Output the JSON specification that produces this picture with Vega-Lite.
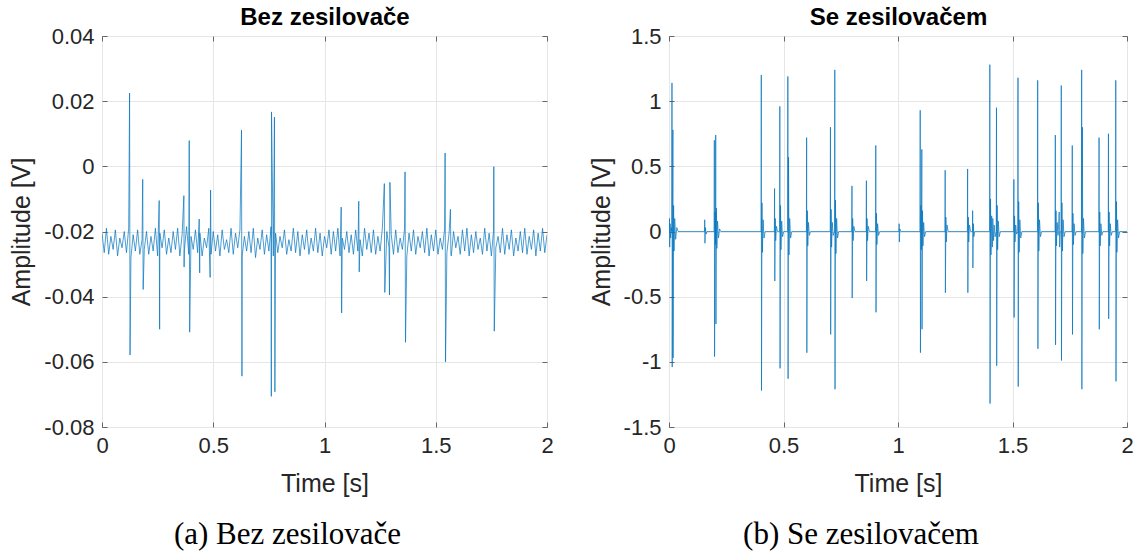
{
  "$schema": "https://vega.github.io/schema/vega-lite/v6.json",
  "padding": {"left": 9, "top": 5, "right": 5, "bottom": 5},
  "background": "white",
  "config": {
    "view": {"stroke": "#666666", "strokeWidth": 1},
    "axis": {
      "labelFont": "Liberation Sans", "titleFont": "Liberation Sans",
      "labelColor": "#262626", "titleColor": "#262626",
      "labelFontSize": 22, "titleFontSize": 25, "titleFontWeight": "normal",
      "gridColor": "#e6e6e6", "gridWidth": 1, "tickColor": "#666666",
      "domain": false, "tickSize": -5, "labelFlush": false
    }
  },
  "spacing": 34,
  "datasets": {
    "a": [
      {"t":0.00,"v":-0.0205},{"t":0.01,"v":-0.0265},{"t":0.02,"v":-0.0190},{"t":0.03,"v":-0.0270},{"t":0.04,"v":-0.0215},{"t":0.05,"v":-0.0255},{"t":0.06,"v":-0.0195},{"t":0.07,"v":-0.0275},{"t":0.08,"v":-0.0220},{"t":0.09,"v":-0.0250},
      {"t":0.10,"v":-0.0200},{"t":0.11,"v":-0.0265},{"t":0.12,"v":-0.0190},{"t":0.13,"v":-0.0280},{"t":0.14,"v":-0.0210},{"t":0.15,"v":-0.0260},{"t":0.16,"v":-0.0195},{"t":0.17,"v":-0.0270},{"t":0.18,"v":-0.0225},{"t":0.19,"v":-0.0255},
      {"t":0.20,"v":-0.0200},{"t":0.21,"v":-0.0270},{"t":0.22,"v":-0.0215},{"t":0.23,"v":-0.0260},{"t":0.24,"v":-0.0190},{"t":0.25,"v":-0.0275},{"t":0.26,"v":-0.0205},{"t":0.27,"v":-0.0250},{"t":0.28,"v":-0.0195},{"t":0.29,"v":-0.0270},
      {"t":0.30,"v":-0.0220},{"t":0.31,"v":-0.0265},{"t":0.32,"v":-0.0200},{"t":0.33,"v":-0.0255},{"t":0.34,"v":-0.0190},{"t":0.35,"v":-0.0275},{"t":0.36,"v":-0.0210},{"t":0.37,"v":-0.0260},{"t":0.38,"v":-0.0185},{"t":0.39,"v":-0.0270},
      {"t":0.40,"v":-0.0215},{"t":0.41,"v":-0.0255},{"t":0.42,"v":-0.0195},{"t":0.43,"v":-0.0265},{"t":0.44,"v":-0.0205},{"t":0.45,"v":-0.0275},{"t":0.46,"v":-0.0220},{"t":0.47,"v":-0.0250},{"t":0.48,"v":-0.0190},{"t":0.49,"v":-0.0270},
      {"t":0.50,"v":-0.0200},{"t":0.51,"v":-0.0260},{"t":0.52,"v":-0.0210},{"t":0.53,"v":-0.0275},{"t":0.54,"v":-0.0195},{"t":0.55,"v":-0.0255},{"t":0.56,"v":-0.0225},{"t":0.57,"v":-0.0265},{"t":0.58,"v":-0.0190},{"t":0.59,"v":-0.0270},
      {"t":0.60,"v":-0.0205},{"t":0.61,"v":-0.0250},{"t":0.62,"v":-0.0195},{"t":0.63,"v":-0.0275},{"t":0.64,"v":-0.0215},{"t":0.65,"v":-0.0260},{"t":0.66,"v":-0.0200},{"t":0.67,"v":-0.0265},{"t":0.68,"v":-0.0190},{"t":0.69,"v":-0.0280},
      {"t":0.70,"v":-0.0220},{"t":0.71,"v":-0.0255},{"t":0.72,"v":-0.0195},{"t":0.73,"v":-0.0270},{"t":0.74,"v":-0.0210},{"t":0.75,"v":-0.0260},{"t":0.76,"v":-0.0185},{"t":0.77,"v":-0.0275},{"t":0.78,"v":-0.0205},{"t":0.79,"v":-0.0265},
      {"t":0.80,"v":-0.0215},{"t":0.81,"v":-0.0250},{"t":0.82,"v":-0.0195},{"t":0.83,"v":-0.0270},{"t":0.84,"v":-0.0225},{"t":0.85,"v":-0.0260},{"t":0.86,"v":-0.0190},{"t":0.87,"v":-0.0265},{"t":0.88,"v":-0.0200},{"t":0.89,"v":-0.0275},
      {"t":0.90,"v":-0.0210},{"t":0.91,"v":-0.0255},{"t":0.92,"v":-0.0195},{"t":0.93,"v":-0.0270},{"t":0.94,"v":-0.0220},{"t":0.95,"v":-0.0260},{"t":0.96,"v":-0.0190},{"t":0.97,"v":-0.0265},{"t":0.98,"v":-0.0205},{"t":0.99,"v":-0.0275},
      {"t":1.00,"v":-0.0215},{"t":1.01,"v":-0.0250},{"t":1.02,"v":-0.0195},{"t":1.03,"v":-0.0270},{"t":1.04,"v":-0.0200},{"t":1.05,"v":-0.0260},{"t":1.06,"v":-0.0190},{"t":1.07,"v":-0.0275},{"t":1.08,"v":-0.0220},{"t":1.09,"v":-0.0255},
      {"t":1.10,"v":-0.0200},{"t":1.11,"v":-0.0265},{"t":1.12,"v":-0.0210},{"t":1.13,"v":-0.0270},{"t":1.14,"v":-0.0195},{"t":1.15,"v":-0.0260},{"t":1.16,"v":-0.0225},{"t":1.17,"v":-0.0275},{"t":1.18,"v":-0.0190},{"t":1.19,"v":-0.0255},
      {"t":1.20,"v":-0.0205},{"t":1.21,"v":-0.0265},{"t":1.22,"v":-0.0195},{"t":1.23,"v":-0.0270},{"t":1.24,"v":-0.0215},{"t":1.25,"v":-0.0260},{"t":1.26,"v":-0.0190},{"t":1.27,"v":-0.0275},{"t":1.28,"v":-0.0200},{"t":1.29,"v":-0.0250},
      {"t":1.30,"v":-0.0210},{"t":1.31,"v":-0.0270},{"t":1.32,"v":-0.0195},{"t":1.33,"v":-0.0265},{"t":1.34,"v":-0.0220},{"t":1.35,"v":-0.0255},{"t":1.36,"v":-0.0190},{"t":1.37,"v":-0.0275},{"t":1.38,"v":-0.0205},{"t":1.39,"v":-0.0260},
      {"t":1.40,"v":-0.0195},{"t":1.41,"v":-0.0270},{"t":1.42,"v":-0.0215},{"t":1.43,"v":-0.0250},{"t":1.44,"v":-0.0200},{"t":1.45,"v":-0.0265},{"t":1.46,"v":-0.0190},{"t":1.47,"v":-0.0275},{"t":1.48,"v":-0.0210},{"t":1.49,"v":-0.0260},
      {"t":1.50,"v":-0.0195},{"t":1.51,"v":-0.0270},{"t":1.52,"v":-0.0220},{"t":1.53,"v":-0.0255},{"t":1.54,"v":-0.0190},{"t":1.55,"v":-0.0265},{"t":1.56,"v":-0.0205},{"t":1.57,"v":-0.0275},{"t":1.58,"v":-0.0200},{"t":1.59,"v":-0.0250},
      {"t":1.60,"v":-0.0215},{"t":1.61,"v":-0.0270},{"t":1.62,"v":-0.0195},{"t":1.63,"v":-0.0260},{"t":1.64,"v":-0.0190},{"t":1.65,"v":-0.0275},{"t":1.66,"v":-0.0210},{"t":1.67,"v":-0.0265},{"t":1.68,"v":-0.0200},{"t":1.69,"v":-0.0255},
      {"t":1.70,"v":-0.0220},{"t":1.71,"v":-0.0270},{"t":1.72,"v":-0.0190},{"t":1.73,"v":-0.0260},{"t":1.74,"v":-0.0205},{"t":1.75,"v":-0.0275},{"t":1.76,"v":-0.0195},{"t":1.77,"v":-0.0250},{"t":1.78,"v":-0.0215},{"t":1.79,"v":-0.0265},
      {"t":1.80,"v":-0.0190},{"t":1.81,"v":-0.0270},{"t":1.82,"v":-0.0210},{"t":1.83,"v":-0.0255},{"t":1.84,"v":-0.0195},{"t":1.85,"v":-0.0275},{"t":1.86,"v":-0.0220},{"t":1.87,"v":-0.0260},{"t":1.88,"v":-0.0200},{"t":1.89,"v":-0.0265},
      {"t":1.90,"v":-0.0190},{"t":1.91,"v":-0.0270},{"t":1.92,"v":-0.0215},{"t":1.93,"v":-0.0255},{"t":1.94,"v":-0.0195},{"t":1.95,"v":-0.0275},{"t":1.96,"v":-0.0205},{"t":1.97,"v":-0.0260},{"t":1.98,"v":-0.0190},{"t":1.99,"v":-0.0265},
      {"t":2.00,"v":-0.0210},
      {"t":0.124,"v":0.0225},{"t":0.126,"v":-0.0579},
      {"t":0.183,"v":-0.0040},{"t":0.185,"v":-0.0378},
      {"t":0.257,"v":-0.0105},{"t":0.259,"v":-0.0500},
      {"t":0.368,"v":-0.0090},{"t":0.369,"v":-0.0309},
      {"t":0.392,"v":0.0079},{"t":0.394,"v":-0.0509},
      {"t":0.437,"v":-0.0162},{"t":0.439,"v":-0.0327},
      {"t":0.486,"v":-0.0341},{"t":0.488,"v":-0.0073},
      {"t":0.627,"v":0.0111},{"t":0.629,"v":-0.0644},
      {"t":0.761,"v":-0.0706},{"t":0.762,"v":0.0167},
      {"t":0.775,"v":0.0151},{"t":0.777,"v":-0.0692},
      {"t":1.075,"v":-0.0125},{"t":1.077,"v":-0.0450},
      {"t":1.154,"v":-0.0107},{"t":1.156,"v":-0.0324},
      {"t":1.269,"v":-0.0053},{"t":1.271,"v":-0.0387},
      {"t":1.292,"v":-0.0395},{"t":1.294,"v":-0.0049},
      {"t":1.362,"v":-0.0017},{"t":1.364,"v":-0.0540},
      {"t":1.542,"v":0.0041},{"t":1.544,"v":-0.0600},
      {"t":1.566,"v":-0.0132},{"t":1.568,"v":-0.0270},
      {"t":1.761,"v":-0.0001},{"t":1.763,"v":-0.0506}
    ],
    "b": [
      {"t":0.000,"v":0},{"t":0.002,"v":0.10},{"t":0.003,"v":-0.12},{"t":0.005,"v":0.06},{"t":0.007,"v":-0.05},{"t":0.010,"v":0.03},{"t":0.012,"v":0},
      {"t":0.013,"v":1.14},{"t":0.014,"v":-1.04},{"t":0.016,"v":0.25},{"t":0.017,"v":0.78},{"t":0.018,"v":-0.97},{"t":0.020,"v":0.20},{"t":0.022,"v":-0.15},{"t":0.025,"v":0.10},{"t":0.029,"v":-0.06},{"t":0.034,"v":0.03},{"t":0.040,"v":0},
      {"t":0.155,"v":0},{"t":0.156,"v":0.09},{"t":0.157,"v":-0.09},{"t":0.159,"v":0.03},{"t":0.162,"v":-0.02},{"t":0.166,"v":0},
      {"t":0.197,"v":0},{"t":0.198,"v":0.70},{"t":0.199,"v":-0.96},{"t":0.201,"v":0.15},{"t":0.203,"v":-0.10},{"t":0.204,"v":0.74},{"t":0.205,"v":-0.71},{"t":0.207,"v":0.18},{"t":0.209,"v":-0.13},{"t":0.212,"v":0.08},{"t":0.216,"v":-0.05},{"t":0.221,"v":0.02},{"t":0.226,"v":0},
      {"t":0.402,"v":0},{"t":0.403,"v":1.20},{"t":0.404,"v":-1.22},{"t":0.406,"v":0.22},{"t":0.408,"v":-0.16},{"t":0.411,"v":0.09},{"t":0.415,"v":-0.05},{"t":0.420,"v":0},
      {"t":0.460,"v":0},{"t":0.461,"v":0.33},{"t":0.462,"v":-0.38},{"t":0.464,"v":0.10},{"t":0.466,"v":-0.07},{"t":0.469,"v":0.04},{"t":0.474,"v":0},
      {"t":0.483,"v":0},{"t":0.484,"v":0.96},{"t":0.485,"v":-1.05},{"t":0.487,"v":0.20},{"t":0.489,"v":-0.14},{"t":0.492,"v":0.08},{"t":0.496,"v":-0.04},{"t":0.501,"v":0},
      {"t":0.518,"v":0},{"t":0.519,"v":1.19},{"t":0.520,"v":-1.13},{"t":0.522,"v":0.57},{"t":0.524,"v":-0.18},{"t":0.527,"v":0.10},{"t":0.531,"v":-0.05},{"t":0.536,"v":0},
      {"t":0.600,"v":0},{"t":0.601,"v":0.72},{"t":0.602,"v":-0.93},{"t":0.604,"v":0.16},{"t":0.606,"v":-0.11},{"t":0.609,"v":0.07},{"t":0.613,"v":-0.03},{"t":0.618,"v":0},
      {"t":0.704,"v":0},{"t":0.705,"v":0.80},{"t":0.706,"v":-0.79},{"t":0.708,"v":0.17},{"t":0.710,"v":-0.12},{"t":0.713,"v":0.07},{"t":0.717,"v":-0.03},{"t":0.722,"v":0},
      {"t":0.723,"v":0},{"t":0.724,"v":1.24},{"t":0.725,"v":-1.21},{"t":0.727,"v":0.24},{"t":0.729,"v":-0.17},{"t":0.732,"v":0.10},{"t":0.736,"v":-0.05},{"t":0.741,"v":0},
      {"t":0.798,"v":0},{"t":0.799,"v":0.35},{"t":0.800,"v":-0.51},{"t":0.802,"v":0.10},{"t":0.804,"v":-0.07},{"t":0.807,"v":0.04},{"t":0.812,"v":0},
      {"t":0.861,"v":0},{"t":0.862,"v":0.39},{"t":0.863,"v":-0.38},{"t":0.865,"v":0.10},{"t":0.867,"v":-0.07},{"t":0.870,"v":0.04},{"t":0.875,"v":0},
      {"t":0.902,"v":0},{"t":0.903,"v":0.66},{"t":0.904,"v":-0.62},{"t":0.906,"v":0.14},{"t":0.908,"v":-0.10},{"t":0.911,"v":0.06},{"t":0.915,"v":-0.03},{"t":0.920,"v":0},
      {"t":1.004,"v":0},{"t":1.005,"v":0.06},{"t":1.006,"v":-0.08},{"t":1.008,"v":0.02},{"t":1.012,"v":0},
      {"t":1.096,"v":0},{"t":1.097,"v":0.93},{"t":1.098,"v":-0.93},{"t":1.100,"v":0.20},{"t":1.102,"v":-0.14},{"t":1.104,"v":0.63},{"t":1.105,"v":-0.75},{"t":1.107,"v":0.16},{"t":1.109,"v":-0.11},{"t":1.112,"v":0.07},{"t":1.116,"v":-0.04},{"t":1.121,"v":0},
      {"t":1.205,"v":0},{"t":1.206,"v":0.47},{"t":1.207,"v":-0.47},{"t":1.209,"v":0.11},{"t":1.211,"v":-0.08},{"t":1.214,"v":0.05},{"t":1.219,"v":0},
      {"t":1.303,"v":0},{"t":1.304,"v":0.48},{"t":1.305,"v":-0.47},{"t":1.307,"v":0.11},{"t":1.309,"v":-0.08},{"t":1.312,"v":0.05},{"t":1.317,"v":0},
      {"t":1.325,"v":0},{"t":1.326,"v":0.16},{"t":1.327,"v":-0.28},{"t":1.329,"v":0.06},{"t":1.331,"v":-0.04},{"t":1.335,"v":0},
      {"t":1.400,"v":0},{"t":1.401,"v":1.28},{"t":1.402,"v":-1.32},{"t":1.404,"v":0.25},{"t":1.406,"v":-0.18},{"t":1.409,"v":0.12},{"t":1.412,"v":-0.12},{"t":1.414,"v":0.10},{"t":1.417,"v":-0.07},{"t":1.420,"v":0.05},{"t":1.424,"v":-0.04},{"t":1.429,"v":0},
      {"t":1.430,"v":0.95},{"t":1.431,"v":-1.03},{"t":1.433,"v":0.20},{"t":1.435,"v":-0.14},{"t":1.438,"v":0.08},{"t":1.442,"v":-0.04},{"t":1.447,"v":0},
      {"t":1.505,"v":0},{"t":1.506,"v":0.40},{"t":1.507,"v":-0.66},{"t":1.509,"v":0.12},{"t":1.511,"v":-0.08},{"t":1.514,"v":0.05},{"t":1.518,"v":-0.02},{"t":1.523,"v":0},
      {"t":1.524,"v":1.18},{"t":1.525,"v":-1.19},{"t":1.527,"v":0.23},{"t":1.529,"v":-0.16},{"t":1.532,"v":0.09},{"t":1.536,"v":-0.05},{"t":1.541,"v":0},
      {"t":1.609,"v":0},{"t":1.610,"v":1.16},{"t":1.611,"v":-0.90},{"t":1.613,"v":0.22},{"t":1.615,"v":-0.15},{"t":1.618,"v":0.09},{"t":1.622,"v":-0.04},{"t":1.627,"v":0},
      {"t":1.686,"v":0},{"t":1.687,"v":0.74},{"t":1.688,"v":-0.87},{"t":1.690,"v":0.16},{"t":1.692,"v":-0.11},{"t":1.695,"v":0.07},{"t":1.699,"v":-0.03},{"t":1.704,"v":0.15},{"t":1.706,"v":-0.12},{"t":1.709,"v":0},
      {"t":1.712,"v":0},{"t":1.713,"v":1.12},{"t":1.714,"v":-0.99},{"t":1.716,"v":0.22},{"t":1.718,"v":-0.15},{"t":1.721,"v":0.09},{"t":1.725,"v":-0.04},{"t":1.730,"v":0},
      {"t":1.760,"v":0},{"t":1.761,"v":0.66},{"t":1.762,"v":-0.79},{"t":1.764,"v":0.14},{"t":1.766,"v":-0.10},{"t":1.769,"v":0.06},{"t":1.773,"v":-0.03},{"t":1.778,"v":0},
      {"t":1.801,"v":0},{"t":1.802,"v":1.24},{"t":1.803,"v":-1.21},{"t":1.805,"v":0.80},{"t":1.807,"v":-0.17},{"t":1.810,"v":0.10},{"t":1.814,"v":-0.05},{"t":1.819,"v":0},
      {"t":1.877,"v":0},{"t":1.878,"v":0.72},{"t":1.879,"v":-0.75},{"t":1.881,"v":0.15},{"t":1.883,"v":-0.11},{"t":1.886,"v":0.06},{"t":1.890,"v":-0.03},{"t":1.895,"v":0},
      {"t":1.918,"v":0},{"t":1.919,"v":0.75},{"t":1.920,"v":-0.67},{"t":1.922,"v":0.15},{"t":1.924,"v":-0.11},{"t":1.927,"v":0.06},{"t":1.931,"v":-0.03},{"t":1.936,"v":0},
      {"t":1.950,"v":0},{"t":1.951,"v":1.16},{"t":1.952,"v":-1.15},{"t":1.954,"v":0.23},{"t":1.956,"v":-0.16},{"t":1.959,"v":0.09},{"t":1.963,"v":-0.05},{"t":1.968,"v":0},
      {"t":2.000,"v":0}
    ]
  },
  "hconcat": [
    {
      "width": 445, "height": 391,
      "data": {"name": "a"},
      "title": {"text": "(a) Bez zesilovače", "orient": "bottom", "font": "Liberation Serif", "fontSize": 31, "fontWeight": "normal", "color": "#000000", "offset": 24, "dx": -37},
      "resolve": {"axis": {"x": "independent", "y": "independent"}},
      "layer": [
        {
          "mark": {"type": "line", "color": "#0072BD", "strokeWidth": 0.7, "clip": true},
          "encoding": {
            "x": {"field": "t", "type": "quantitative", "scale": {"domain": [0, 2], "nice": false},
                  "axis": {"orient": "bottom", "title": "Time [s]", "values": [0, 0.5, 1, 1.5, 2], "labelExpr": "'' + datum.value", "labelPadding": 13, "titlePadding": 15}},
            "y": {"field": "v", "type": "quantitative", "scale": {"domain": [-0.08, 0.04], "nice": false, "zero": false},
                  "axis": {"orient": "left", "title": "Amplitude [V]", "values": [-0.08, -0.06, -0.04, -0.02, 0, 0.02, 0.04], "labelExpr": "'' + datum.value", "labelPadding": 13, "titlePadding": 9}}
          }
        },
        {
          "mark": {"type": "line", "opacity": 0},
          "encoding": {
            "x": {"field": "t", "type": "quantitative",
                  "axis": {"orient": "top", "title": "Bez zesilovače", "titleFontWeight": "bold", "titleFontSize": 24, "titleColor": "#000000", "titlePadding": 6, "labels": false, "grid": false, "values": [0, 0.5, 1, 1.5, 2]}},
            "y": {"field": "v", "type": "quantitative",
                  "axis": {"orient": "right", "title": null, "labels": false, "grid": false, "values": [-0.08, -0.06, -0.04, -0.02, 0, 0.02, 0.04]}}
          }
        }
      ]
    },
    {
      "width": 458, "height": 391,
      "data": {"name": "b"},
      "title": {"text": "(b) Se zesilovačem", "orient": "bottom", "font": "Liberation Serif", "fontSize": 31, "fontWeight": "normal", "color": "#000000", "offset": 24, "dx": -37},
      "resolve": {"axis": {"x": "independent", "y": "independent"}},
      "layer": [
        {
          "mark": {"type": "line", "color": "#0072BD", "strokeWidth": 0.7, "clip": true},
          "encoding": {
            "x": {"field": "t", "type": "quantitative", "scale": {"domain": [0, 2], "nice": false},
                  "axis": {"orient": "bottom", "title": "Time [s]", "values": [0, 0.5, 1, 1.5, 2], "labelExpr": "'' + datum.value", "labelPadding": 13, "titlePadding": 15}},
            "y": {"field": "v", "type": "quantitative", "scale": {"domain": [-1.5, 1.5], "nice": false, "zero": false},
                  "axis": {"orient": "left", "title": "Amplitude [V]", "values": [-1.5, -1, -0.5, 0, 0.5, 1, 1.5], "labelExpr": "'' + datum.value", "labelPadding": 13, "titlePadding": 9}}
          }
        },
        {
          "mark": {"type": "line", "opacity": 0},
          "encoding": {
            "x": {"field": "t", "type": "quantitative",
                  "axis": {"orient": "top", "title": "Se zesilovačem", "titleFontWeight": "bold", "titleFontSize": 24, "titleColor": "#000000", "titlePadding": 6, "labels": false, "grid": false, "values": [0, 0.5, 1, 1.5, 2]}},
            "y": {"field": "v", "type": "quantitative",
                  "axis": {"orient": "right", "title": null, "labels": false, "grid": false, "values": [-1.5, -1, -0.5, 0, 0.5, 1, 1.5]}}
          }
        }
      ]
    }
  ]
}
